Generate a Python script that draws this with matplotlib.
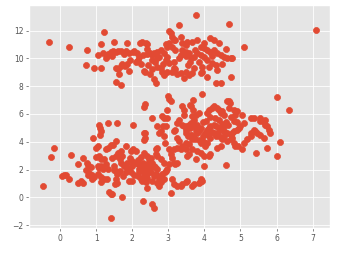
import matplotlib
matplotlib.use("Agg")
import matplotlib.pyplot as plt

plt.style.use("ggplot")

# Upper cluster
top_x = [-0.31, 0.25, 0.74, 0.72, 0.95, 1.13, 1.04, 1.13, 1.21, 1.5, 1.27, 1.3, 1.34, 1.41, 1.48, 1.54,
         1.61, 1.68, 1.76, 1.82, 1.55, 1.61, 1.68, 1.73, 1.79, 1.85, 1.9, 1.55, 1.7, 1.64, 1.85, 1.92,
         2.01, 2.05, 2.13, 2.15, 2.1, 2.22, 2.28, 2.37, 2.42, 2.32, 2.36, 2.42, 2.5, 2.56, 2.56, 2.63,
         2.7, 2.75, 2.6, 2.65, 2.7, 2.79, 2.84, 2.88, 2.97, 2.93, 2.97, 3.02, 3.08, 3.11, 3.16, 3.3,
         3.78, 4.69, 5.11, 7.1, 4.73, 4.45, 4.31, 4.08, 3.9, 3.94, 3.71, 3.66, 3.57, 3.43, 3.48, 3.34,
         3.53, 3.66, 3.8, 3.99, 4.17, 4.26, 4.4, 3.9, 3.99, 4.08, 4.17, 4.26, 4.36, 4.45, 4.54, 4.63,
         4.73, 4.77, 4.08, 4.22, 4.31, 4.12, 4.36, 3.94, 3.71, 3.8, 3.9, 3.62, 3.57, 3.48, 3.39, 3.34,
         3.3, 3.16, 3.02, 2.93, 2.97, 2.88, 2.79, 2.7, 2.61, 3.11, 3.2, 3.39, 3.48, 3.34, 3.2, 3.02,
         2.25, 2.45, 2.55, 2.5, 2.2, 2.3, 3.1, 3.2, 3.25, 3.15, 3.55, 3.6, 3.85, 4.0, 4.5, 4.6,
         4.2, 3.75, 3.5, 2.85, 2.4, 1.95, 1.2, 1.45]
top_y = [11.19, 10.81, 10.62, 9.5, 9.29, 9.29, 10.26, 11.05, 11.86, 11.19, 10.0, 10.15, 10.3, 10.43, 10.5, 10.43,
         10.55, 10.5, 10.3, 10.55, 9.33, 9.24, 9.45, 9.57, 9.45, 9.62, 9.1, 8.29, 8.1, 8.88, 11.12, 10.36,
         10.45, 10.55, 10.4, 9.88, 9.76, 11.07, 11.19, 11.07, 11.0, 9.1, 9.0, 10.7, 10.36, 10.24, 9.88, 9.76,
         10.0, 10.12, 8.5, 8.21, 9.4, 9.29, 9.05, 8.81, 9.0, 11.0, 10.83, 11.93, 11.79, 11.55, 11.3, 12.38,
         13.1, 12.45, 10.83, 12.05, 8.69, 8.21, 8.26, 8.69, 8.93, 9.05, 9.29, 8.93, 8.81, 8.57, 9.05, 8.93,
         11.19, 11.19, 11.3, 11.07, 11.43, 11.31, 11.07, 10.83, 10.71, 10.6, 10.48, 10.6, 10.36, 10.24, 10.12, 10.0,
         10.0, 10.05, 9.88, 9.64, 9.52, 9.4, 9.17, 9.4, 10.12, 10.36, 10.24, 10.0, 10.36, 10.48, 10.6, 10.24,
         10.0, 9.76, 9.64, 9.88, 10.12, 10.36, 10.6, 10.48, 10.36, 10.83, 10.6, 11.07, 10.95, 11.55, 11.31, 11.07,
         9.6, 9.5, 9.2, 8.9, 10.1, 10.25, 9.0, 9.2, 8.9, 9.3, 9.5, 9.7, 9.7, 10.1, 9.6, 10.7,
         10.2, 10.6, 10.2, 9.6, 10.3, 9.9, 10.4, 10.2]

# Lower-left cluster
left_x = [-0.48, -0.25, -0.16, 0.3, 0.06, 0.12, 0.18, 0.26, 0.5, 0.58, 0.65, 0.5, 0.63, 0.75, 0.78,
          0.72, 0.81, 0.86, 0.9, 0.95, 0.78, 0.9, 0.92, 1.0, 1.04, 1.09, 1.11, 1.13, 1.11, 1.07, 1.13,
          1.04, 1.09, 1.13, 1.18, 1.04, 1.13, 1.13, 1.22, 1.3, 1.27, 1.34, 1.41, 1.48, 1.34, 1.57, 1.55,
          1.22, 1.27, 1.32, 1.5, 1.5, 1.55, 1.59, 1.55, 1.59, 1.52, 1.36, 1.41, 1.45, 1.71, 1.41, 1.55,
          1.61, 1.68, 1.73, 1.66, 1.7, 1.78, 1.87, 1.92, 1.82, 1.96, 2.0, 1.82, 1.96, 2.03, 2.1, 2.03,
          1.92, 2.0, 2.15, 2.24, 2.28, 2.1, 2.16, 2.24, 2.2, 2.29, 2.38, 2.42, 2.47, 2.51, 2.42, 2.33,
          2.33, 2.42, 2.47, 2.51, 2.33, 2.35, 2.36, 2.33, 2.35, 2.33, 2.38, 2.42, 2.31, 2.56, 2.56, 2.6,
          2.65, 2.7, 2.56, 2.6, 2.7, 2.65, 2.6, 2.56, 2.68, 2.75, 2.81, 2.88, 2.84, 2.93, 2.97, 3.02,
          2.88, 2.79, 2.7, 2.65, 2.9, 3.02, 3.07, 3.11, 3.16, 3.11, 3.16, 3.2, 3.25, 3.25, 3.34, 3.39,
          3.48, 3.53, 3.66, 3.71, 3.85, 3.9, 3.88, 3.94, 4.0,
          1.65, 1.75, 1.85, 2.05, 2.15, 2.25, 2.45, 2.5, 2.75, 2.9, 1.95, 2.2, 2.4, 2.62, 2.8, 1.45,
          1.0, 0.85, 2.0, 2.3]
left_y = [0.83, 2.93, 3.52, 3.05, 1.55, 1.6, 1.62, 1.31, 1.0, 1.2, 1.05, 2.43, 2.86, 2.5, 2.33,
          2.0, 1.75, 1.55, 1.3, 1.43, 1.6, 1.6, 4.24, 3.57, 3.69, 5.24, 5.0, 4.76, 4.52, 2.98, 2.74,
          2.26, 2.1, 2.26, 2.02, 1.67, 1.43, 1.07, 1.3, 1.3, 3.45, 3.57, 3.76, 3.76, 5.36, 5.36, 4.05,
          2.74, 2.38, 2.02, 2.26, 2.0, 1.88, 1.67, 1.3, 1.0, 0.95, 0.36, 0.24, 0.24, 0.0, -1.48, 3.0,
          3.21, 3.33, 3.0, 2.74, 2.5, 2.26, 2.14, 1.95, 1.79, 1.79, 2.26, 3.69, 3.33, 3.45, 3.33, 5.24,
          1.19, 1.19, 1.55, 1.31, 1.19, 2.5, 2.38, 2.26, 2.02, 1.9, 2.14, 2.38, 2.02, 1.79, 1.67, 1.55,
          3.21, 2.98, 2.74, 2.86, 4.1, 4.3, 4.64, 4.64, 6.74, 6.5, 1.07, 0.71, -0.24, 5.7, -0.48, -0.79,
          3.45, 3.57, 2.5, 2.26, 2.02, 1.67, 1.55, 1.19, 1.0, 0.83, 1.07, 1.31, 1.67, 1.9, 2.02, 2.38,
          2.5, 2.74, 2.98, 3.1, 3.93, 3.45, 0.29, 1.3, 0.95, 2.86, 2.5, 2.38, 2.5, 0.83, 0.83, 0.95,
          1.07, 1.19, 0.8, 0.95, 1.0, 1.31, 1.1, 1.2, 2.26,
          1.9, 1.55, 2.5, 1.6, 2.7, 2.9, 1.9, 2.1, 1.3, 1.8, 2.8, 1.8, 1.4, 2.2, 1.5, 2.8,
          2.9, 2.2, 2.6, 2.5]

# Middle-right cluster
right_x = [3.0, 3.02, 3.07, 2.97, 2.84, 2.88, 2.97, 2.85, 2.93, 2.7, 2.75, 2.8, 2.88, 3.16, 3.2,
           3.3, 3.25, 3.39, 3.43, 3.43, 3.25, 3.3, 3.23, 3.39, 3.43, 3.48, 3.53, 3.57, 3.62, 3.66, 3.71,
           3.76, 3.8, 3.85, 3.9, 3.8, 3.71, 3.66, 3.76, 3.85, 3.69, 3.94, 3.69, 3.64, 3.6, 3.48, 3.57,
           3.66, 3.53, 3.76, 3.8, 3.9, 3.99, 4.03, 4.08, 4.12, 4.17, 3.94, 3.9, 3.99, 4.03, 4.08, 4.12,
           4.17, 4.26, 4.31, 4.4, 4.45, 4.54, 4.63, 4.73, 4.77, 4.82, 4.91, 4.96, 5.0, 4.08, 4.12, 4.22,
           4.26, 4.36, 4.4, 4.49, 4.45, 4.54, 4.63, 4.67, 4.7, 4.67, 4.82, 4.91, 4.86, 5.05, 5.09, 5.3,
           5.37, 5.53, 5.55, 5.64, 5.69, 5.83, 5.78, 5.74, 5.69, 5.64, 5.55, 5.46, 5.41, 5.37, 5.3, 5.28,
           5.17, 5.09, 5.04, 5.44, 5.74, 6.1, 6.01, 6.01, 6.34, 4.36, 4.45, 4.4, 4.49, 4.54, 4.63, 4.73,
           4.77, 4.82, 4.86, 4.93, 4.6, 4.26, 4.31, 4.17, 4.82, 4.91, 4.73,
           3.34, 3.39, 3.48, 3.57, 3.66, 3.16, 3.07,
           3.55, 3.6, 3.7, 3.95, 4.1, 4.2, 4.35, 4.5, 4.6, 3.75, 3.85, 4.05, 4.3, 4.55, 3.5, 3.65,
           4.15, 4.4, 4.65, 3.6, 3.95]
right_y = [7.26, 7.1, 6.9, 6.3, 5.83, 5.7, 5.7, 5.1, 5.1, 5.1, 4.64, 4.76, 4.4, 4.76, 4.88,
           5.6, 5.36, 6.55, 6.3, 5.95, 4.3, 4.05, 3.57, 5.24, 5.1, 4.88, 5.1, 5.24, 5.36, 5.24, 5.1,
           4.88, 4.64, 4.76, 5.0, 5.24, 5.6, 5.83, 5.95, 6.07, 7.02, 7.45, 6.3, 6.55, 6.67, 3.93, 3.81,
           4.17, 2.98, 2.74, 3.33, 3.21, 2.98, 3.7, 3.93, 2.98, 3.1, 4.05, 3.93, 4.0, 4.64, 4.88, 5.0,
           5.1, 5.24, 5.12, 5.0, 4.88, 4.76, 4.64, 4.52, 4.64, 4.76, 4.88, 5.0, 5.1, 6.07, 6.3, 6.43,
           6.55, 6.43, 6.3, 6.2, 6.07, 5.95, 6.9, 6.9, 6.79, 6.43, 6.3, 6.2, 5.95, 5.95, 5.36, 5.7,
           5.7, 5.7, 5.5, 5.4, 5.6, 4.64, 4.88, 5.1, 5.24, 4.3, 4.52, 4.64, 4.76, 4.88, 4.64, 4.4,
           4.17, 3.93, 3.45, 3.17, 3.57, 4.0, 2.98, 7.19, 6.29, 3.57, 3.69, 4.4, 4.2, 4.4, 4.05, 4.17,
           4.3, 3.93, 3.7, 3.7, 2.33, 4.6, 4.4, 4.3, 5.5, 5.4, 5.8,
           3.45, 3.7, 3.45, 3.1, 3.45, 3.45, 3.1,
           4.4, 4.5, 4.3, 4.4, 4.5, 4.7, 4.6, 5.3, 5.4, 4.2, 4.1, 5.5, 5.7, 5.1, 4.6, 4.5,
           5.8, 5.55, 5.2, 5.0, 5.45]

fig = plt.figure(figsize=(3.37, 2.54), dpi=100)
ax = fig.add_axes([0.086, 0.102, 0.893, 0.878])
color = "#E24A33"
ax.scatter(top_x, top_y, s=19, color=color)
ax.scatter(left_x, left_y, s=19, color=color)
ax.scatter(right_x, right_y, s=19, color=color)
ax.set_yticks([-2, 0, 2, 4, 6, 8, 10, 12])
ax.set_xticks([0, 1, 2, 3, 4, 5, 6, 7])
ax.tick_params(labelsize=5.5, length=2, width=0.5, pad=2)
ax.grid(True, color="white", linewidth=0.6)
fig.savefig("out.png", dpi=100)
